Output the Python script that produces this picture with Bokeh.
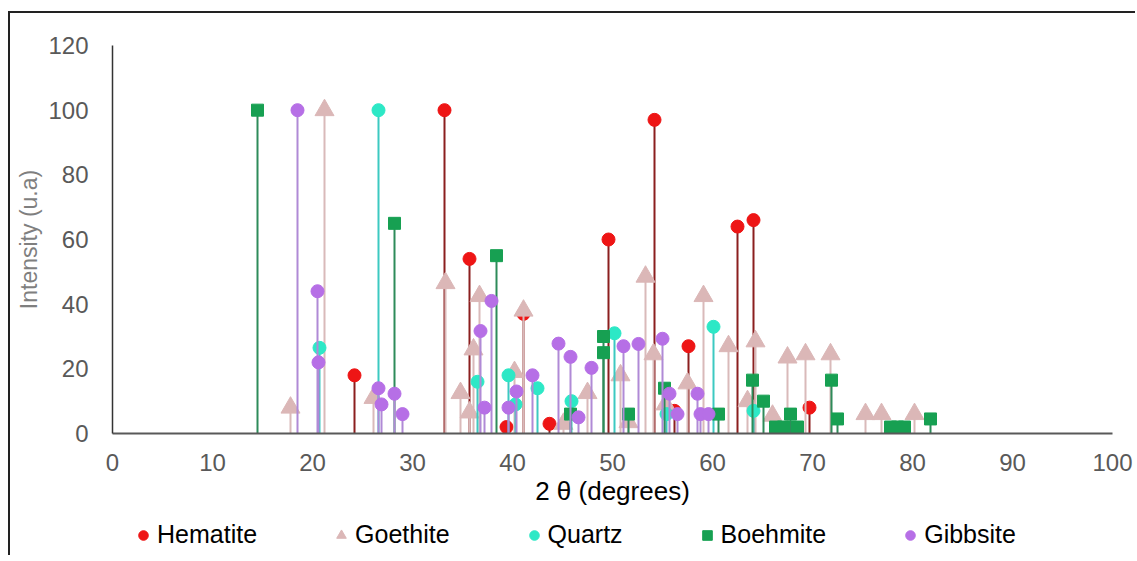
from bokeh.plotting import figure
from bokeh.layouts import column
from bokeh.models import Range1d, FixedTicker, Legend, LegendItem
from bokeh.embed import file_html
from bokeh.resources import INLINE

# ---- data ----
hem_x = [24.2, 33.2, 35.7, 39.4, 41.1, 43.7, 49.6, 54.2, 56.2, 57.6, 62.5, 64.1, 69.7]
hem_y = [18, 100, 54, 2, 37, 3, 60, 97, 7, 27, 64, 66, 8]

goe_x = [17.8, 21.2, 26.1, 33.3, 34.8, 35.7, 36.1, 36.7, 40.2, 41.1, 45.1, 47.5, 50.8,
         51.6, 53.3, 54.1, 55.3, 57.5, 59.1, 61.6, 63.5, 64.3, 66.0, 67.5, 69.3, 71.8,
         75.3, 76.9, 80.2]
goe_y = [8, 100, 11, 46.5, 12.5, 6.5, 26, 42.5, 19, 38, 3, 12.5, 18,
         3.5, 48.5, 24.5, 9, 15.5, 42.5, 27, 10, 28.5, 5.5, 23.5, 24.5, 24.5,
         6, 6, 6]

qtz_x = [20.7, 26.6, 36.5, 39.6, 40.3, 42.5, 45.9, 50.2, 55.4, 60.1, 64.1]
qtz_y = [26.5, 100, 16, 18, 9, 14, 10, 31, 6, 33, 7]

boe_x = [14.5, 28.2, 38.4, 45.8, 49.1, 49.1, 51.6, 55.2, 60.6, 64.0, 65.1, 66.3, 67.1,
         67.8, 68.5, 71.9, 72.5, 77.8, 78.5, 79.2, 81.8]
boe_y = [100, 65, 55, 6, 30, 25, 6, 14, 6, 16.5, 10, 2, 2,
         6, 2, 16.5, 4.5, 2, 2, 2, 4.5]

gib_x = [18.5, 20.5, 20.6, 26.6, 26.9, 28.2, 29.0, 36.8, 37.2, 37.9, 39.6, 40.4, 42.0,
         44.6, 45.8, 46.6, 47.9, 51.1, 52.6, 55.0, 55.7, 56.5, 58.5, 58.8, 59.6]
gib_y = [100, 44, 22, 14, 9, 12.3, 6, 31.7, 8, 41, 8, 13, 18,
         27.8, 23.7, 5, 20.3, 27, 27.7, 29.3, 12.3, 6, 12.3, 6, 6]

x_ticks = [0, 10, 20, 30, 40, 50, 60, 70, 80, 90, 100]
y_ticks = [0, 20, 40, 60, 80, 100, 120]

FONT = "Liberation Sans"

p = figure(width=1125, height=500, output_backend="svg", toolbar_location=None,
           x_range=Range1d(0, 100), y_range=Range1d(0, 120),
           min_border_left=102, min_border_right=23, min_border_top=32,
           min_border_bottom=80)
p.outline_line_color = None
p.xgrid.grid_line_color = None
p.ygrid.grid_line_color = None
p.background_fill_color = "white"
p.border_fill_color = "white"

for ax in (p.xaxis[0], p.yaxis[0]):
    ax.major_tick_line_color = None
    ax.minor_tick_line_color = None
    ax.major_label_text_font = FONT
    ax.major_label_text_font_size = "24px"
    ax.major_label_text_color = "#595959"
    ax.axis_label_text_font = FONT
    ax.axis_label_text_font_style = "normal"

p.xaxis.ticker = FixedTicker(ticks=x_ticks)
p.yaxis.ticker = FixedTicker(ticks=y_ticks)
p.xaxis.axis_line_color = "#595959"
p.xaxis.axis_line_width = 2
p.yaxis.axis_line_color = "#333333"
p.yaxis.axis_line_width = 1.5
p.xaxis.major_label_standoff = 14
p.yaxis.major_label_standoff = 18

p.xaxis.axis_label = "2 θ (degrees)"
p.xaxis.axis_label_text_font_size = "26px"
p.xaxis.axis_label_text_color = "#000000"
p.xaxis.axis_label_standoff = 2

p.yaxis.axis_label = "Intensity (u.a)"
p.yaxis.axis_label_text_font_size = "23px"
p.yaxis.axis_label_text_color = "#7f7f7f"
p.yaxis.axis_label_standoff = 3

series = [
    ("Hematite", hem_x, hem_y, "circle", 13, "#ee1515", "#8b1f1f"),
    ("Goethite", goe_x, goe_y, "triangle", 19, "#dbb7b7", "#d9baba"),
    ("Quartz", qtz_x, qtz_y, "circle", 13, "#2de8c6", "#3cc9c1"),
    ("Boehmite", boe_x, boe_y, "square", 12, "#17a052", "#2e8b5a"),
    ("Gibbsite", gib_x, gib_y, "circle", 13, "#b66fe6", "#b08ad6"),
]

# separate strip for the legend, under the chart (its ranges show none of the points)
lg = figure(width=1125, height=42, output_backend="svg", toolbar_location=None,
            x_range=Range1d(-1, 0), y_range=Range1d(-1, 0),
            x_axis_location=None, y_axis_location=None,
            min_border_left=0, min_border_right=0, min_border_top=0,
            min_border_bottom=0)
lg.outline_line_color = None
lg.xgrid.grid_line_color = None
lg.ygrid.grid_line_color = None
lg.background_fill_color = "white"
lg.border_fill_color = "white"

items = []
for name, xs, ys, marker, size, fill, stem in series:
    p.segment(x0=xs, y0=[0] * len(xs), x1=xs, y1=ys, line_color=stem, line_width=2)
    p.scatter(x=xs, y=ys, marker=marker, size=size, fill_color=fill, line_color=fill)
    r = lg.scatter(x=xs, y=ys, marker=marker, size=size, fill_color=fill,
                   line_color=fill)
    items.append(LegendItem(label=name, renderers=[r]))

legend = Legend(items=items, orientation="horizontal", location=(19, 6),
                glyph_width=24, glyph_height=24, label_standoff=2, spacing=72,
                padding=0, margin=0, border_line_color=None,
                background_fill_alpha=0,
                label_text_font=FONT, label_text_font_size="25px",
                label_text_color="#000000")
lg.add_layout(legend, "center")

layout = column(p, lg, spacing=0,
                styles={"border-left": "2px solid #222222",
                        "border-top": "2px solid #222222",
                        "margin-left": "8px", "margin-top": "11px"})

open("out.html", "w").write(file_html(layout, INLINE))
